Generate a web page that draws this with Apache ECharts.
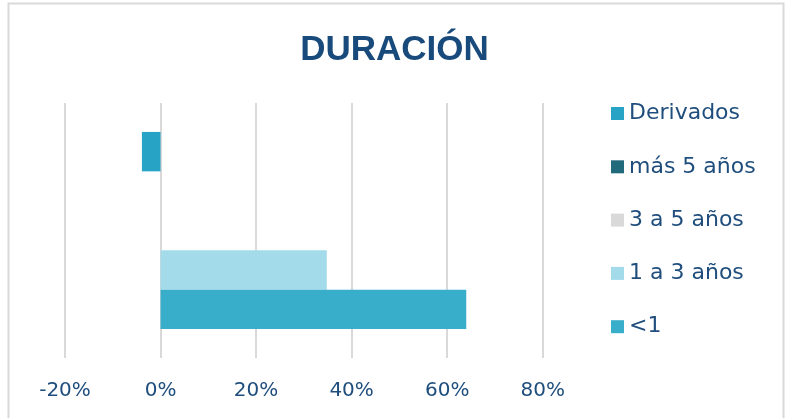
<!DOCTYPE html>
<html>
<head>
<meta charset="utf-8">
<script src="https://cdn.jsdelivr.net/npm/echarts@6/dist/echarts.min.js"></script>
<style>
html,body{margin:0;padding:0;background:#fff;}
#chart{width:789px;height:418px;}
</style>
</head>
<body>
<div id="chart"></div>
<script>
const titleText = 'DURACIÓN';
const categories = ['Duración'];
const seriesNames = ['Derivados', 'más 5 años', '3 a 5 años', '1 a 3 años', '<1'];
const derivados = [-3.9];
const mas5 = [0];
const de3a5 = [0];
const de1a3 = [34.8];
const menos1 = [64.0];
const tickMin = -20, tickMax = 80, tickStep = 20;

const seriesValues = [derivados, mas5, de3a5, de1a3, menos1];
const colors = ['#27A4C5', '#216A7B', '#D9D9D9', '#A3DBEA', '#39AECA'];

const chart = echarts.init(document.getElementById('chart'));
const textColor = '#1F4E7D';
chart.setOption({
  animation: false,
  backgroundColor: '#ffffff',
  title: {
    text: titleText,
    left: 'center',
    top: 28,
    textStyle: {fontFamily: 'Liberation Sans', fontWeight: 'bold', fontSize: 35, color: '#184A7B'}
  },
  legend: {
    orient: 'vertical',
    left: 611,
    top: 102.5,
    padding: 0,
    itemWidth: 13,
    itemHeight: 13,
    itemGap: 31.3,
    icon: 'rect',
    data: seriesNames,
    textStyle: {fontFamily: 'DejaVu Sans', fontSize: 22, color: textColor}
  },
  grid: {left: 65, top: 103, width: 477.7, height: 255, containLabel: false},
  xAxis: {
    type: 'value',
    min: tickMin, max: tickMax, interval: tickStep,
    axisLine: {show: false},
    axisTick: {show: false},
    splitLine: {show: true, lineStyle: {color: '#D9D9D9', width: 2}},
    axisLabel: {formatter: '{value}%', margin: 23, fontFamily: 'DejaVu Sans', fontSize: 20, color: textColor}
  },
  yAxis: {
    type: 'category',
    data: categories,
    show: false
  },
  graphic: [{
    type: 'rect',
    shape: {x: 8.5, y: 3.5, width: 775, height: 430},
    style: {fill: 'none', stroke: '#D9D9D9', lineWidth: 2},
    silent: true
  }],
  series: seriesNames.map((n, i) => ({
    name: n,
    type: 'bar',
    data: seriesValues[i],
    barGap: '0%',
    barCategoryGap: '22.7%',
    itemStyle: {color: colors[i]}
  }))
});
</script>
</body>
</html>
